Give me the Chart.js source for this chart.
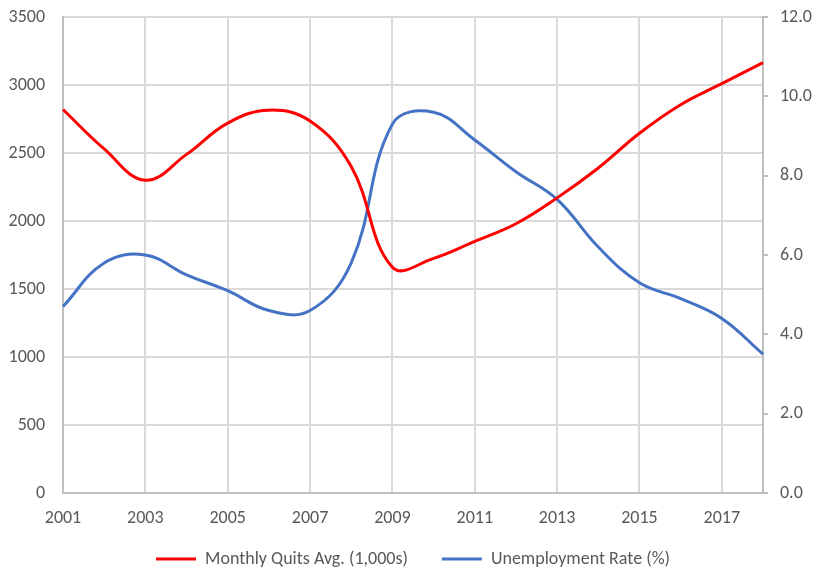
<!DOCTYPE html>
<html>
<head>
<meta charset="utf-8">
<script src="https://cdn.jsdelivr.net/npm/chart.js@4"></script>
<style>
  body { margin: 0; background: #fff; }
  #wrap { width: 826px; height: 582px; }
</style>
</head>
<body>
<div id="wrap"><canvas id="quitsChart"></canvas></div>
<script>
// Years on the x axis (one point per year)
const years = ['2001', '2002', '2003', '2004', '2005', '2006', '2007', '2008', '2009',
    '2010', '2011', '2012', '2013', '2014', '2015', '2016', '2017', '2018'];

// Monthly quits average, thousands (left axis)
const quits = [2820, 2530, 2300, 2490, 2720, 2815, 2735, 2400, 1660,
    1725, 1850, 1980, 2170, 2390, 2645, 2855, 3010, 3165];

// Unemployment rate, percent (right axis)
const unemployment = [4.7, 5.8, 6.0, 5.5, 5.1, 4.6, 4.6, 5.8, 9.3,
    9.6, 8.9, 8.1, 7.4, 6.2, 5.3, 4.9, 4.4, 3.5];

const textColor = '#595959';
const gridColor = '#d9d9d9';
const axisColor = '#bfbfbf';
const fontFamily = 'Carlito, "Liberation Sans", Arial, sans-serif';

// fixed box sizes so the plot area lands where the original has it
function fixVertical(width) {
    return scale => {
        scale.width = width;
        scale.paddingTop = 0;
        scale.paddingBottom = 0;
    };
}

// the wide gap between legend items needs a big padding, pull the legend back up
const legendShift = {
    id: 'legendShift',
    afterLayout(chart) {
        chart.legend.top -= 14;
        chart.legend.bottom -= 14;
    }
};

const ctx = document.getElementById('quitsChart').getContext('2d');
new Chart(ctx, {
    type: 'line',
    data: {
        labels: years,
        datasets: [{
            label: 'Monthly Quits Avg. (1,000s)',
            data: quits,
            yAxisID: 'y',
            borderColor: '#ff0000',
            backgroundColor: '#ff0000',
            borderWidth: 3,
            pointRadius: 0,
            pointStyle: 'line',
            tension: 0.4
        }, {
            label: 'Unemployment Rate (%)',
            data: unemployment,
            yAxisID: 'y1',
            borderColor: '#4472c4',
            backgroundColor: '#4472c4',
            borderWidth: 3,
            pointRadius: 0,
            pointStyle: 'line',
            tension: 0.4
        }]
    },
    plugins: [legendShift],
    options: {
        responsive: true,
        maintainAspectRatio: false,
        animation: false,
        layout: { padding: { left: 0, right: 0, top: 17, bottom: 0 } },
        plugins: {
            tooltip: { enabled: false },
            legend: {
                position: 'bottom',
                maxHeight: 52,
                labels: {
                    color: textColor,
                    font: { family: fontFamily, size: 18 },
                    usePointStyle: true,
                    pointStyleWidth: 40,
                    padding: 34
                }
            }
        },
        scales: {
            x: {
                offset: false,
                grid: {
                    color: c => (c.index % 2 === 0 ? gridColor : 'transparent'),
                    drawTicks: false,
                    lineWidth: 2
                },
                border: { color: axisColor, width: 2 },
                ticks: {
                    autoSkip: false,
                    maxRotation: 0,
                    padding: 15,
                    color: textColor,
                    font: { family: fontFamily, size: 18 },
                    callback: function (value, index) {
                        return index % 2 === 0 ? this.getLabelForValue(value) : '';
                    }
                },
                afterFit: scale => {
                    scale.height = 37;
                    scale.paddingLeft = 0;
                    scale.paddingRight = 0;
                }
            },
            y: {
                position: 'left',
                min: 0,
                max: 3500,
                grid: { color: gridColor, drawTicks: false, lineWidth: 2 },
                border: { color: axisColor, width: 2 },
                ticks: {
                    stepSize: 500,
                    padding: 18,
                    color: textColor,
                    font: { family: fontFamily, size: 18 },
                    callback: v => String(v)
                },
                afterFit: fixVertical(63)
            },
            y1: {
                position: 'right',
                min: 0,
                max: 12,
                grid: { drawOnChartArea: false, color: axisColor, tickLength: 5, lineWidth: 2 },
                border: { color: axisColor, width: 2 },
                ticks: {
                    stepSize: 2,
                    padding: 12,
                    color: textColor,
                    font: { family: fontFamily, size: 18 },
                    callback: v => v.toFixed(1)
                },
                afterFit: fixVertical(63)
            }
        }
    }
});
</script>
</body>
</html>
